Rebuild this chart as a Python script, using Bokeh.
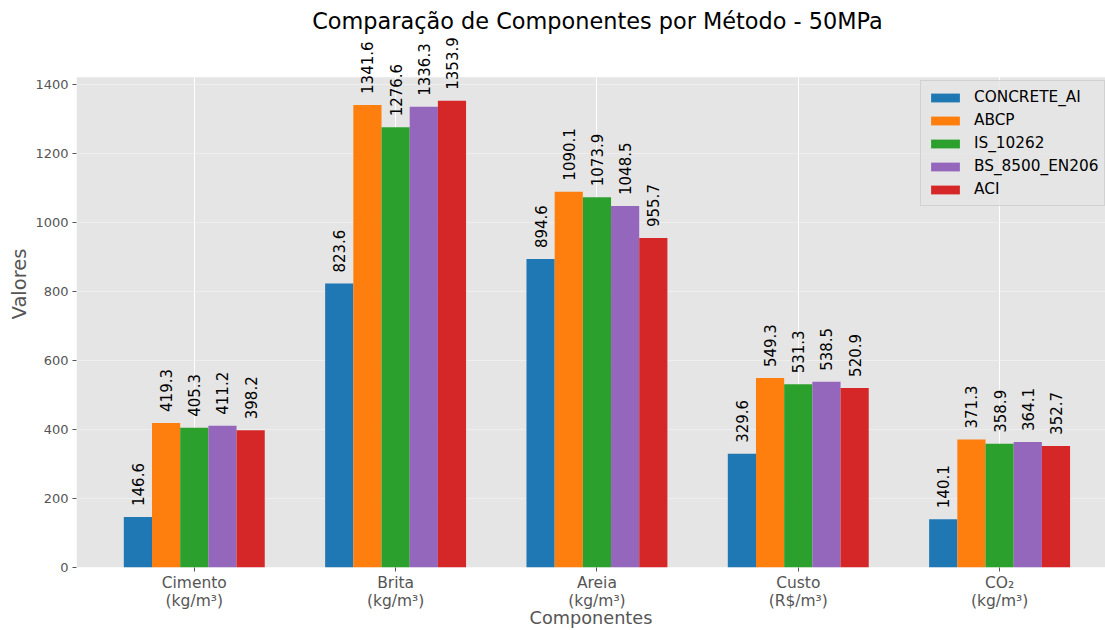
from bokeh.plotting import figure
from bokeh.models import (Range1d, FixedTicker, Label, LabelSet, Legend, LegendItem,
                          ColumnDataSource, BoxAnnotation)
from bokeh.core.properties import value
from bokeh.embed import file_html
from bokeh.resources import INLINE
import math

categories = ["Cimento\n(kg/m³)", "Brita\n(kg/m³)", "Areia\n(kg/m³)", "Custo\n(R$/m³)", "CO₂\n(kg/m³)"]
methods = ["CONCRETE_AI", "ABCP", "IS_10262", "BS_8500_EN206", "ACI"]
concrete_ai = [146.6, 823.6, 894.6, 329.6, 140.1]
abcp = [419.3, 1341.6, 1090.1, 549.3, 371.3]
is_10262 = [405.3, 1276.6, 1073.9, 531.3, 358.9]
bs_8500 = [411.2, 1336.3, 1048.5, 538.5, 364.1]
aci = [398.2, 1353.9, 955.7, 520.9, 352.7]
y_ticks = [0, 200, 400, 600, 800, 1000, 1200, 1400]
colors = ["#1f77b4", "#ff7f0e", "#2ca02c", "#9467bd", "#d62728"]

series = [concrete_ai, abcp, is_10262, bs_8500, aci]
bar_w = 0.14
FONT = "DejaVu Sans"

W, H = 1105, 630
LEFT, BOTTOM = 76, 62
AX_TOP_PX = 77                      # top of the grey axes area
FRAME_H = H - BOTTOM                # frame spans whole height above x axis
y_axes_top = max(max(s) for s in series) * 1.05   # matplotlib-like 5% headroom
y_frame_top = y_axes_top * FRAME_H / (FRAME_H - AX_TOP_PX)

p = figure(width=W, height=H, output_backend="svg", toolbar_location=None,
           x_range=Range1d(-0.585, 4.526), y_range=Range1d(0, y_frame_top),
           min_border_left=LEFT, min_border_right=0, min_border_top=0, min_border_bottom=BOTTOM,
           background_fill_color="white", border_fill_color="white", outline_line_color=None)
p.title.visible = False

# grey axes background (only up to the axes top)
p.add_layout(BoxAnnotation(bottom=0, top=y_axes_top, fill_color="#e5e5e5", fill_alpha=1,
                           line_color=None, level="image"))

items = []
for i, (name, vals, col) in enumerate(zip(methods, series, colors)):
    xs = [k + (i - 2) * bar_w for k in range(len(vals))]
    src = ColumnDataSource(dict(x=xs, top=vals, lab=[f"{v:.1f}" for v in vals]))
    r = p.vbar(x="x", top="top", width=bar_w, source=src, fill_color=col, line_color=None)
    items.append(LegendItem(label=name, renderers=[r]))
    p.add_layout(LabelSet(x="x", y="top", text="lab", source=src, angle=math.pi / 2,
                          text_align="left", text_baseline="middle", y_offset=11,
                          text_font=value(FONT), text_font_size=value("15px"),
                          text_color=value("black")))

# axes
for ax in (p.xaxis[0], p.yaxis[0]):
    ax.axis_line_color = None
    ax.major_tick_line_color = "#555555"
    ax.major_tick_out = 4
    ax.major_tick_in = 0
    ax.minor_tick_line_color = None
    ax.major_label_text_font = FONT
    ax.major_label_text_color = "#555555"
    ax.axis_label_text_font = FONT
    ax.axis_label_text_color = "#555555"
    ax.axis_label_text_font_style = "normal"

p.xaxis.major_label_text_font_size = "15.5px"
p.xaxis.major_label_text_line_height = 1.0
p.xaxis.major_label_standoff = 2
p.xaxis.ticker = FixedTicker(ticks=list(range(len(categories))))
p.xaxis.major_label_overrides = {i: c for i, c in enumerate(categories)}
p.xaxis.axis_label = "Componentes"
p.xaxis.axis_label_text_font_size = "17.7px"
p.xaxis.axis_label_text_line_height = 0.6
p.xaxis.axis_label_standoff = -5

p.yaxis.major_label_text_font_size = "13px"
p.yaxis.major_label_standoff = 4
p.yaxis.ticker = FixedTicker(ticks=y_ticks)
p.yaxis.bounds = (0, y_axes_top)
p.yaxis.axis_label = "Valores"
p.yaxis.axis_label_text_font_size = "19.5px"
p.yaxis.axis_label_standoff = 1

p.xgrid.grid_line_color = "white"
p.xgrid.grid_line_width = 1
p.xgrid.ticker = FixedTicker(ticks=list(range(len(categories))))
p.ygrid.grid_line_color = "white"
p.ygrid.grid_line_alpha = 0.35
p.ygrid.grid_line_width = 1

legend = Legend(items=items, location=(844, 361), orientation="vertical",
                label_text_font=FONT, label_text_font_size="15.3px", label_text_color="black",
                glyph_width=36, glyph_height=11, label_standoff=11, label_height=20,
                spacing=3, padding=6, margin=0,
                background_fill_color="#e5e5e5", background_fill_alpha=0.8,
                border_line_color="#cccccc", border_line_alpha=0.8)
p.add_layout(legend, "center")

# title, centred over the (matplotlib) axes, inside the extended frame
p.add_layout(Label(x=597 - LEFT, y=FRAME_H - 21, x_units="screen", y_units="screen",
                   text="Comparação de Componentes por Método - 50MPa",
                   text_font=FONT, text_font_size="22.4px", text_color="black",
                   text_align="center", text_baseline="alphabetic"))

open("out.html", "w").write(file_html(p, INLINE))
